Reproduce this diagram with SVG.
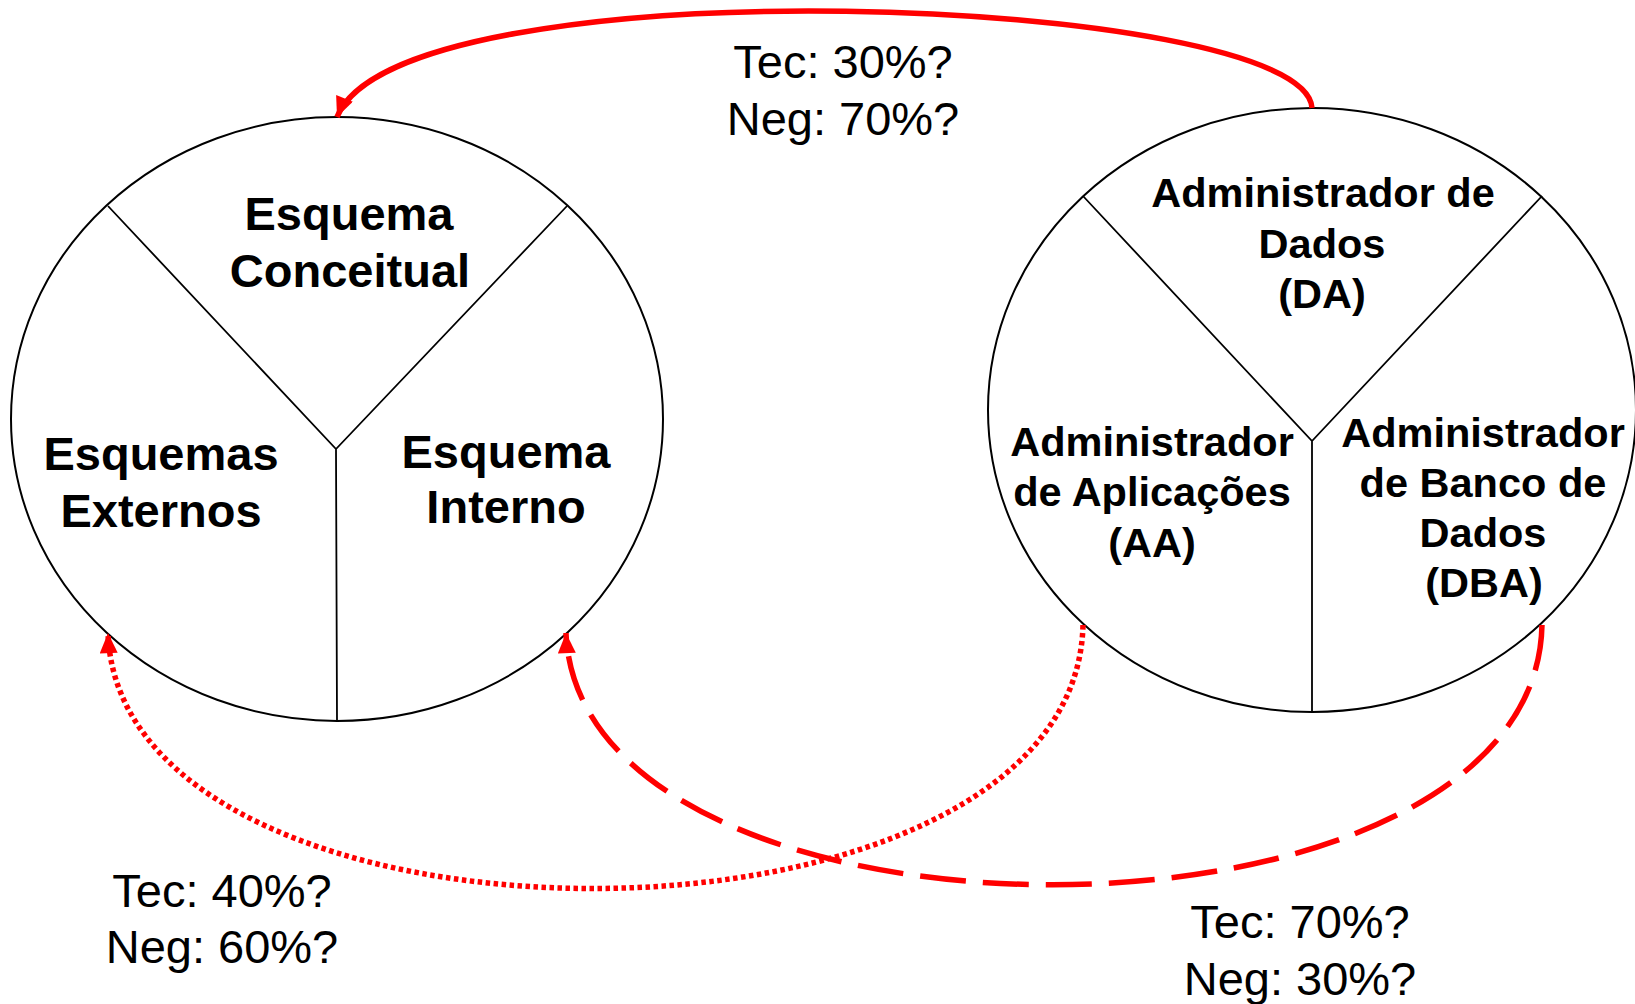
<svg xmlns="http://www.w3.org/2000/svg" width="1635" height="1004" viewBox="0 0 1635 1004">
<style>
.shape{fill:none;stroke:#000;stroke-width:2}
.div{fill:none;stroke:#000;stroke-width:1.8}
.lbl{font-family:"Liberation Sans",Arial,sans-serif;font-weight:bold;font-size:47px;fill:#000;text-anchor:middle}
.lbl2{font-family:"Liberation Sans",Arial,sans-serif;font-weight:bold;font-size:41.5px;fill:#000;text-anchor:middle}
.pct{font-family:"Liberation Sans",Arial,sans-serif;font-size:47px;fill:#000;text-anchor:middle}
.conn{fill:none;stroke:#ff0000;stroke-width:5.5}
</style>
<defs>
<marker id="ah" markerUnits="userSpaceOnUse" markerWidth="22" markerHeight="18" refX="19" refY="8.5" orient="auto" viewBox="0 0 19 17">
<path d="M0,0 L19,8.5 L0,17 z" fill="#ff0000"/>
</marker>
</defs>
<rect width="1635" height="1004" fill="#fff"/>
<g id="left-node">
<ellipse class="shape" cx="337" cy="419" rx="326" ry="302"/>
<path class="div" d="M108,206 L336,449 L567,206 M336,449 L337,721"/>
<text class="lbl" x="349" y="230">Esquema</text>
<text class="lbl" x="350" y="287">Conceitual</text>
<text class="lbl" x="161" y="470">Esquemas</text>
<text class="lbl" x="161" y="527">Externos</text>
<text class="lbl" x="506" y="468">Esquema</text>
<text class="lbl" x="506" y="523">Interno</text>
</g>
<g id="right-node">
<ellipse class="shape" cx="1312" cy="410" rx="324" ry="302"/>
<path class="div" d="M1083,196 L1312,441 L1542,196 M1312,441 L1312,712"/>
<text class="lbl2" x="1323" y="207">Administrador de</text>
<text class="lbl2" x="1322" y="258">Dados</text>
<text class="lbl2" x="1322" y="308">(DA)</text>
<text class="lbl2" x="1152" y="456">Administrador</text>
<text class="lbl2" x="1152" y="506">de Aplicações</text>
<text class="lbl2" x="1152" y="557">(AA)</text>
<text class="lbl2" x="1483" y="447">Administrador</text>
<text class="lbl2" x="1483" y="497">de Banco de</text>
<text class="lbl2" x="1483" y="547">Dados</text>
<text class="lbl2" x="1484" y="597">(DBA)</text>
</g>
<g id="connectors">
<path class="conn" d="M1312,108 C1305,-5 400,-40 337,117" marker-end="url(#ah)"/>
<path class="conn" d="M1083,625 C1075,975 120,975 108,633" stroke-width="5" stroke-dasharray="4.5 3.5" marker-end="url(#ah)"/>
<path class="conn" d="M1542,625 C1535,970 580,970 566,633" stroke-dasharray="46 17" marker-end="url(#ah)"/>
</g>
<g id="labels">
<text class="pct" x="843" y="78">Tec: 30%?</text>
<text class="pct" x="843" y="135">Neg: 70%?</text>
<text class="pct" x="222" y="907">Tec: 40%?</text>
<text class="pct" x="222" y="963">Neg: 60%?</text>
<text class="pct" x="1300" y="938">Tec: 70%?</text>
<text class="pct" x="1300" y="995">Neg: 30%?</text>
</g>
</svg>
